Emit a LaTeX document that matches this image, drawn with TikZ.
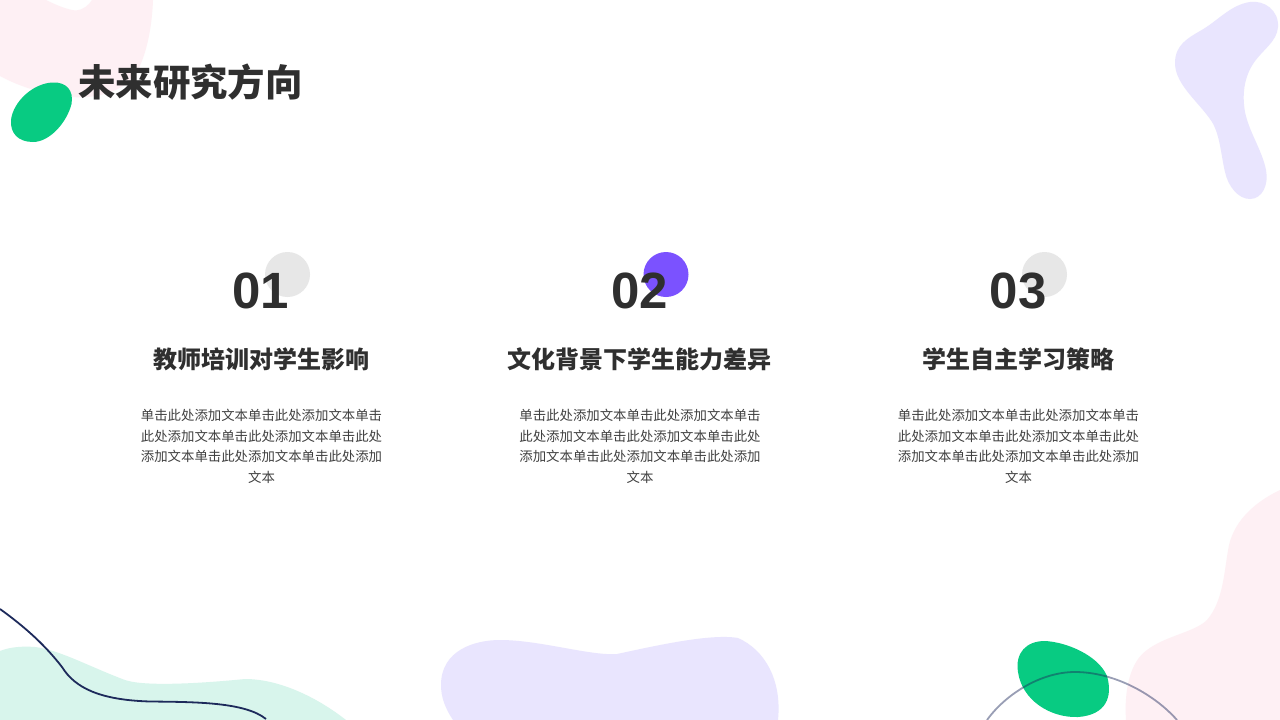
\documentclass[tikz,border=0pt]{standalone}
\usepackage{fontspec}
\setmainfont{Liberation Sans}
\newfontfamily\cjk{Noto Sans CJK SC}
\definecolor{inkdark}{HTML}{2F2F2F}
\definecolor{inkbody}{HTML}{404040}
\definecolor{blobpink}{HTML}{FEF0F4}
\definecolor{blobviolet}{HTML}{E9E5FE}
\definecolor{blobmint}{HTML}{D8F5EC}
\definecolor{leafgreen}{HTML}{08CB82}
\definecolor{dotgrey}{HTML}{E7E7E7}
\definecolor{dotviolet}{HTML}{7B52FF}
\definecolor{linenavy}{HTML}{1D2A5B}
\tikzset{
	titletext/.style={text=inkdark, anchor=center, inner sep=0pt, font=\cjk\bfseries\fontsize{37.4}{37.4}\selectfont},
	numtext/.style={text=inkdark, anchor=center, inner sep=0pt, font=\bfseries\fontsize{51}{51}\selectfont},
	headtext/.style={text=inkdark, anchor=center, inner sep=0pt, font=\cjk\bfseries\fontsize{24}{24}\selectfont},
	bodytext/.style={text=inkbody, anchor=north, inner sep=0pt, align=center, text width=250pt, font=\cjk\fontsize{13.4}{20.6}\selectfont},
}
\begin{document}
\begin{tikzpicture}[x=1pt,y=-1pt]
	\useasboundingbox (0,0) rectangle (1280,720);
	\fill[white] (0,0) rectangle (1280,720);

	% background blobs
	\fill[blobpink] (0,0) -- (46,0) .. controls (56,5) and (68,10) .. (76,10.5) .. controls (83,10) and (89,5) .. (92,0) -- (153,0)
		.. controls (152,28) and (146,60) .. (133,78) .. controls (120,92) and (95,99) .. (72,97)
		.. controls (45,95) and (18,86) .. (0,76) -- cycle;
	\fill[blobviolet] (1250,2) .. controls (1264,0) and (1279,10) .. (1278,27) .. controls (1277,42) and (1262,50) .. (1253,64)
		.. controls (1244,78) and (1242,95) .. (1245,112) .. controls (1249,132) and (1262,150) .. (1266,170)
		.. controls (1269,185) and (1262,199) .. (1250,199) .. controls (1238,199) and (1228,186) .. (1225,172)
		.. controls (1221,155) and (1220,135) .. (1212,122) .. controls (1200,103) and (1175,85) .. (1175,63)
		.. controls (1175,45) and (1188,38) .. (1200,31) .. controls (1218,21) and (1230,5) .. (1250,2) -- cycle;
	\fill[blobmint] (0,651) .. controls (10,647) and (22,646) .. (35,647) .. controls (60,650) and (90,667) .. (125,680)
		.. controls (145,687) and (205,683) .. (245,679) .. controls (280,679) and (318,698) .. (346,720) -- (0,720) -- cycle;
	\fill[blobviolet] (453,720) .. controls (445,708) and (441,697) .. (441,685) .. controls (441,650) and (475,640) .. (500,640)
		.. controls (540,640) and (590,656) .. (617,654) .. controls (650,647) and (710,633) .. (738,638)
		.. controls (765,650) and (782,680) .. (778,720) -- cycle;
	\fill[blobpink] (1280,490) .. controls (1255,502) and (1235,520) .. (1229,545) .. controls (1224,570) and (1224,600) .. (1207,620)
		.. controls (1195,632) and (1165,636) .. (1147,650) .. controls (1130,662) and (1124,690) .. (1126,720) -- (1280,720) -- cycle;

	% green leaves
	\fill[leafgreen] (53,82.5) .. controls (66,82) and (74,90) .. (71.5,104) .. controls (67,122) and (50,142) .. (33,142)
		.. controls (18,142) and (10,133) .. (11,120) .. controls (13,102) and (33,83) .. (53,82.5) -- cycle;
	\fill[leafgreen] (1045,641) .. controls (1066,642) and (1098,655) .. (1107,676) .. controls (1113,697) and (1106,715) .. (1078,717)
		.. controls (1050,718) and (1022,700) .. (1018,672) .. controls (1015,653) and (1026,641) .. (1045,641) -- cycle;

	% thin lines
	\draw[linenavy, line width=1.8pt] (0,609) .. controls (25,627) and (45,645) .. (62,667) .. controls (75,688) and (100,700) .. (150,701.5)
		.. controls (195,702) and (245,702) .. (266,719);
	\draw[linenavy, draw opacity=0.45, line width=1.8pt] (987,720) .. controls (1005,695) and (1040,672) .. (1075,672)
		.. controls (1115,672) and (1155,695) .. (1177,720);

	% title
	\node[titletext] (title) at (190.5,82) {未来研究方向};

	% three columns
	\fill[dotgrey] (287.5,274.5) circle (22.5);
	\fill[dotviolet] (666,274.5) circle (22.5);
	\fill[dotgrey] (1044.5,274.5) circle (22.5);

	\node[numtext] (num1) at (261,291) {01};
	\node[numtext] (num2) at (639.5,291) {02};
	\node[numtext] (num3) at (1018,291) {03};

	\node[headtext] (head1) at (261,359) {教师培训对学生影响};
	\node[headtext] (head2) at (639.5,359) {文化背景下学生能力差异};
	\node[headtext] (head3) at (1018,359) {学生自主学习策略};

	\node[bodytext] (body1) at (261.5,409) {单击此处添加文本单击此处添加文本单击\\此处添加文本单击此处添加文本单击此处\\添加文本单击此处添加文本单击此处添加\\文本};
	\node[bodytext] (body2) at (640,409) {单击此处添加文本单击此处添加文本单击\\此处添加文本单击此处添加文本单击此处\\添加文本单击此处添加文本单击此处添加\\文本};
	\node[bodytext] (body3) at (1018.5,409) {单击此处添加文本单击此处添加文本单击\\此处添加文本单击此处添加文本单击此处\\添加文本单击此处添加文本单击此处添加\\文本};
\end{tikzpicture}
\end{document}
